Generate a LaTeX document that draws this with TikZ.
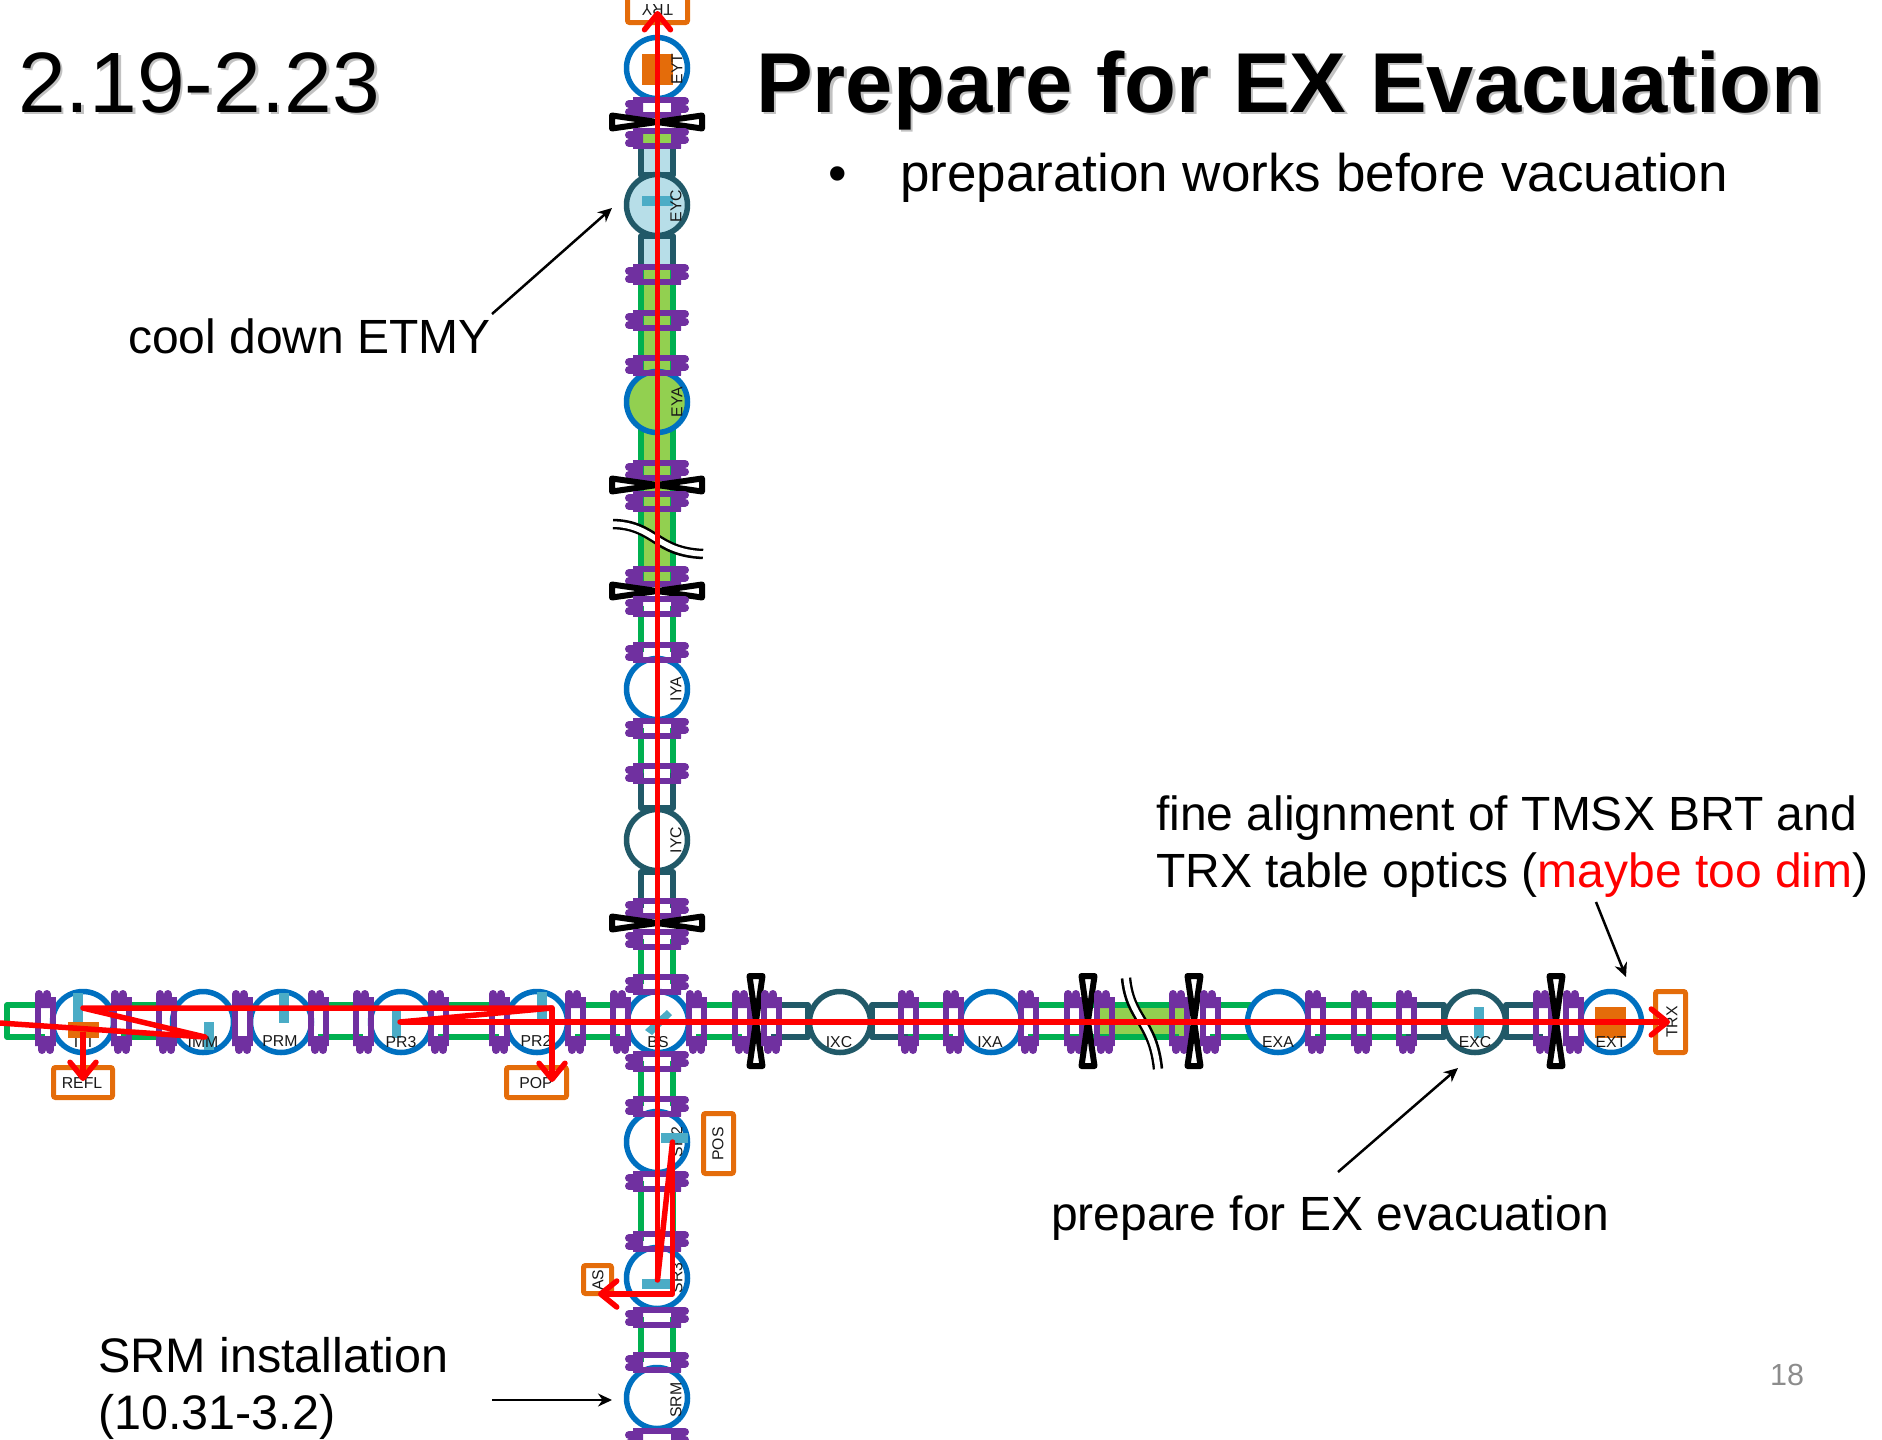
\documentclass[tikz,border=0pt]{standalone}
\usepackage{fontspec}
\setmainfont{Liberation Sans}
\usetikzlibrary{arrows.meta}
\definecolor{tealc}{HTML}{215968}
\definecolor{bluec}{HTML}{0070C0}
\definecolor{purplec}{HTML}{7030A0}
\definecolor{greenc}{HTML}{00B050}
\definecolor{lgreen}{HTML}{92D050}
\definecolor{orangec}{HTML}{E46C0A}
\definecolor{mirrorc}{HTML}{4BACC6}
\definecolor{lblue}{HTML}{B7DEE8}
\definecolor{redc}{HTML}{FF0000}
\tikzset{
  pipeg/.style={draw=greenc,line width=5.5pt,line join=round},
  pipet/.style={draw=tealc,line width=5.5pt,line join=round},
  opt/.style={circle,draw=bluec,fill=white,line width=5.5pt,minimum size=61pt,inner sep=0pt},
  optc/.style={opt,draw=tealc},
  lab/.style={font=\fontsize{15.8}{18}\selectfont,inner sep=0pt,text=black!90},
  pd/.style={draw=orangec,fill=white,line width=5pt,rounded corners=2pt,inner sep=0pt},
  mirrorfill/.style={fill=mirrorc},
  orblock/.style={fill=orangec},
  beam/.style={draw=redc,line width=5.5pt,line join=round},
  beamarrow/.style={beam,-{Straight Barb[length=16pt,width=26pt,line width=5.5pt,round]}},
  note/.style={draw=black,line width=2.5pt,-{Stealth[length=14pt,width=13pt]}},
  big/.style={font=\fontsize{48}{56}\selectfont,inner sep=0pt,anchor=base west},
  fbar/.style={draw=purplec,line width=6pt},
  flobe/.style={draw=purplec,line width=8pt,line cap=round},
  valveshape/.style={draw=black,fill=white,line width=6pt,line join=round},
  breakout/.style={draw=black,line width=10.5pt},
  breakin/.style={draw=white,line width=5.5pt},
}
\newcommand\flangesH[1]{%
  \foreach \fx in {#1} {%
    \path[fbar] (\fx-7.5,998)--(\fx-7.5,1046) (\fx+7.5,997)--(\fx+7.5,1046);
    \fill[purplec] (\fx-10,998) rectangle (\fx+10,1008) (\fx-10,1036) rectangle (\fx+10,1046);
    \path[flobe] (\fx-6,994)--(\fx-6,1002) (\fx+1.5,994)--(\fx+1.5,1002) (\fx-3,1042)--(\fx-3,1050) (\fx+5,1042)--(\fx+5,1050);
  }}
\newcommand\flangesV[1]{%
  \foreach \fy in {#1} {%
    \path[fbar] (681,\fy-7.5)--(633,\fy-7.5) (681,\fy+7.5)--(633,\fy+7.5);
    \fill[purplec] (671,\fy-10) rectangle (681,\fy+10) (633,\fy-10) rectangle (643,\fy+10);
    \path[flobe] (685,\fy-6)--(677,\fy-6) (685,\fy+1.5)--(677,\fy+1.5) (637,\fy-3)--(629,\fy-3) (637,\fy+5)--(629,\fy+5);
  }}
\begin{document}
\begin{tikzpicture}[x=1pt,y=-1pt]
\useasboundingbox (0,0) rectangle (1882,1440);
% fills
\fill[lgreen] (1097,1005) rectangle (1185,1037);
\fill[lgreen] (641,130) rectangle (673,150);
\fill[lblue] (641,148) rectangle (673,266);
\fill[lgreen] (641,264) rectangle (673,586);
% horizontal pipes
\draw[pipeg] (45,1005)--(7,1005)--(7,1037)--(45,1037);
\foreach \pa/\pb in {121/166,318/363,438/499,575/620,696/742,908/953,1028/1074,1104/1179,1315/1361,1361/1406}
  \draw[pipeg] (\pa,1005)--(\pb,1005) (\pa,1037)--(\pb,1037);
\draw[pipeg] (1074,1005)--(1104,1005) (1074,1037)--(1104,1037);
\draw[pipeg] (1210,1005)--(1250,1005)--(1250,1037)--(1210,1037);
\draw[pipet] (771,1005)--(808,1005)--(808,1037)--(771,1037);
\draw[pipet] (908,1005)--(872,1005)--(872,1037)--(908,1037);
\draw[pipet] (1406,1005)--(1444,1005)--(1444,1037)--(1406,1037);
\draw[pipet] (1543,1005)--(1506,1005)--(1506,1037)--(1543,1037);
% vertical pipes
\foreach \pa/\pb in {264/586,606/652,728/773,939/984,1061/1106,1181/1241,1317/1362}
  \draw[pipeg] (641,\pa)--(641,\pb) (673,\pa)--(673,\pb);
\draw[pipet] (641,148)--(641,175)--(673,175)--(673,148);
\draw[pipet] (641,264)--(641,236)--(673,236)--(673,264);
\draw[pipet] (641,773)--(641,808)--(673,808)--(673,773);
\draw[pipet] (641,908)--(641,872)--(673,872)--(673,908);
% optics chambers
\node[opt] (ITI) at (83,1022) {};
\node[opt] (IMM) at (203,1022) {};
\node[opt] (PRM) at (281,1022) {};
\node[opt] (PR3) at (401,1022) {};
\node[opt] (PR2) at (537,1022) {};
\node[opt] (BS) at (658,1022) {};
\node[optc] (IXC) at (840,1022) {};
\node[opt] (IXA) at (991,1022) {};
\node[opt] (EXA) at (1278,1022) {};
\node[optc] (EXC) at (1475,1022) {};
\node[opt] (EXT) at (1611,1022) {};
\node[opt] (EYT) at (657,68) {};
\node[optc,fill=lblue] (EYC) at (657,205) {};
\node[opt,fill=lgreen] (EYA) at (657,402) {};
\node[opt] (IYA) at (657,689) {};
\node[optc] (IYC) at (657,840) {};
\node[opt] (SR2) at (657,1142) {};
\node[opt] (SR3) at (657,1278) {};
\node[opt] (SRM) at (657,1398) {};
% mirrors
\fill[mirrorfill] (204,1022) rectangle (214,1050);
\fill[mirrorfill] (279,993) rectangle (289,1023);
\fill[mirrorfill] (392,1010) rectangle (401,1038);
\fill[mirrorfill] (537,992) rectangle (547,1020);
\fill[mirrorfill] (667,1010)--(672,1015)--(652,1035)--(645,1030)--cycle;
\fill[mirrorfill] (1474,1007) rectangle (1484,1038);
\fill[mirrorfill] (642,196) rectangle (673,206);
\fill[mirrorfill] (642,1279) rectangle (670,1289);
\fill[orblock] (1595,1007) rectangle (1626,1038);
\fill[orblock] (642,54) rectangle (673,85);
% flanges
\flangesH{45,121,166,242,318,363,438,499,575,620,696,742,908,953,1028,1074,1179,1315,1361,1406,1543}
\flangesV{107,274,320,365,470,576,652,728,773,908,984,1061,1106,1181,1241,1317,1362,1438}
% gate valves
\foreach \vx in {756,1088,1194,1556}
  \path[valveshape] (\vx-6.5,976)--(\vx+6.5,976)--(\vx-6.5,1066)--(\vx+6.5,1066)--cycle;
\foreach \vy in {122,485,591,923}
  \path[valveshape] (612,\vy-6.5)--(612,\vy+6.5)--(702,\vy-6.5)--(702,\vy+6.5)--cycle;
\flangesH{771,1104,1210,1573}
\flangesV{138,501,606,939}
% breaks
\draw[breakout] (1126,978) .. controls (1130,1020) and (1153,1020) .. (1158,1069);
\draw[breakin] (1126,977) .. controls (1130,1020) and (1153,1020) .. (1158,1070);
\draw[breakout] (613,524) .. controls (655,525) and (655,552) .. (703,554);
\draw[breakin] (612,524) .. controls (655,525) and (655,552) .. (704,554);
% detector boxes
\node[pd,minimum width=59pt,minimum height=30pt] (REFLbox) at (83,1082.5) {};
\node[pd,minimum width=60pt,minimum height=30pt] (POPbox) at (536.5,1082.5) {};
\node[pd,minimum width=30pt,minimum height=61pt] (TRXbox) at (1670.5,1022) {};
\node[pd,minimum width=30pt,minimum height=60pt] (POSbox) at (718.5,1143.5) {};
\node[pd,minimum width=28pt,minimum height=28pt] (ASbox) at (597.5,1279.5) {};
\node[pd,minimum width=60pt,minimum height=45pt] (TRYbox) at (657.5,0) {};
% labels
\node[lab] (lITI) at (83,1042) {ITI};
\node[lab] (lIMM) at (203,1042) {IMM};
\node[lab] (lPRM) at (280,1041) {PRM};
\node[lab] (lPR3) at (401,1042) {PR3};
\node[lab] (lPR2) at (536,1041) {PR2};
\node[lab] (lBS) at (658,1042) {BS};
\node[lab] (lIXC) at (839,1042) {IXC};
\node[lab] (lIXA) at (990,1042) {IXA};
\node[lab] (lEXA) at (1278,1042) {EXA};
\node[lab] (lEXC) at (1475,1042) {EXC};
\node[lab] (lEXT) at (1611,1042) {EXT};
\node[lab,rotate=90] (lEYT) at (677,69) {EYT};
\node[lab,rotate=90] (lEYC) at (676,206) {EYC};
\node[lab,rotate=90] (lEYA) at (677,402) {EYA};
\node[lab,rotate=90] (lIYA) at (676,689) {IYA};
\node[lab,rotate=90] (lIYC) at (676,840) {IYC};
\node[lab,rotate=90] (lSR2) at (677,1142) {SR2};
\node[lab,rotate=90] (lSR3) at (677,1278) {SR3};
\node[lab,rotate=90] (lSRM) at (676,1400) {SRM};
\node[lab] (lREFL) at (82,1083) {REFL};
\node[lab] (lPOP) at (536,1083) {POP};
\node[lab,rotate=90] (lTRX) at (1672,1022) {TRX};
\node[lab,rotate=90] (lPOS) at (718,1144) {POS};
\node[lab,rotate=90] (lAS) at (598,1280) {AS};
\node[lab,rotate=180] (lTRY) at (657.5,10) {TRY};
% mirrors over labels
\fill[mirrorfill] (73,993) rectangle (83,1023);
\fill[orblock] (68,1022) rectangle (99,1038);
\fill[mirrorfill] (661,1133) rectangle (688,1143);
% beams
\coordinate (bL) at (0,1023);
\coordinate (bIMM) at (205,1037);
\coordinate (bITI) at (83,1008);
\coordinate (bPR2) at (552,1008);
\coordinate (bPR3) at (400,1022);
\coordinate (bTRX) at (1670,1022);
\coordinate (bREFL0) at (83,1032);
\coordinate (bREFL) at (83,1081);
\coordinate (bPOP) at (552,1082);
\coordinate (bTRY) at (657.5,11);
\coordinate (bSR3) at (657.5,1280);
\coordinate (bSR2) at (672.5,1142);
\coordinate (bSR3c) at (672.5,1294);
\coordinate (bAS) at (598,1294);
\draw[beam,line cap=round] (bL)--(bIMM)--(bITI)--(bPR2);
\draw[beam,line cap=round] (bPR2)--(bPR3);
\draw[beamarrow] (bPR3)--(bTRX);
\draw[beamarrow] (bREFL0)--(bREFL);
\draw[beamarrow] (bPR2)--(bPOP);
\draw[beamarrow] (bSR3)--(bTRY);
\draw[beam,line cap=round] (bSR3)--(bSR2);
\draw[beamarrow] (bSR2)--(bSR3c)--(bAS);
% title and texts
\node[inner sep=0pt,anchor=base west,font=\fontsize{85.7}{90}\selectfont,text=black!40,opacity=.6] (shA) at (20.5,114.5) {2.19-2.23};
\node[inner sep=0pt,anchor=base west,font=\fontsize{85.7}{90}\selectfont] (tA) at (18,112) {2.19-2.23};
\node[inner sep=0pt,anchor=base west,font=\fontsize{85}{90}\selectfont\bfseries,text=black!40,opacity=.6] (shB) at (758.5,114.5) {Prepare for EX Evacuation};
\node[inner sep=0pt,anchor=base west,font=\fontsize{85}{90}\selectfont\bfseries] (tB) at (756,112) {Prepare for EX Evacuation};
\node[inner sep=0pt,anchor=base,font=\fontsize{53}{60}\selectfont] (bul) at (838,191) {•};
\node[inner sep=0pt,anchor=base west,font=\fontsize{53}{60}\selectfont] (tC) at (900,191) {preparation works before vacuation};
\node[big] (tD) at (128,353) {cool down ETMY};
\node[big] (tE) at (1156,830) {fine alignment of TMSX BRT and};
\node[big] (tF) at (1156,887) {TRX table optics (\textcolor{redc}{maybe too dim})};
\node[big] (tG) at (1051,1230) {prepare for EX evacuation};
\node[big,font=\fontsize{48.5}{56}\selectfont] (tH) at (98,1372) {SRM installation};
\node[big,font=\fontsize{48.5}{56}\selectfont] (tI) at (98,1429) {(10.31-3.2)};
\node[inner sep=0pt,font=\fontsize{30.5}{34}\selectfont,text=black!45] (pg) at (1787,1375) {18};
% note arrows
\coordinate (n1) at (492,314); \coordinate (n1e) at (612,208);
\coordinate (n2) at (1338,1172); \coordinate (n2e) at (1458,1068);
\coordinate (n3) at (1596,902); \coordinate (n3e) at (1626,977);
\coordinate (n4) at (492,1400); \coordinate (n4e) at (612,1400);
\draw[note] (n1)--(n1e);
\draw[note] (n2)--(n2e);
\draw[note] (n3)--(n3e);
\draw[note] (n4)--(n4e);
\end{tikzpicture}
\end{document}
